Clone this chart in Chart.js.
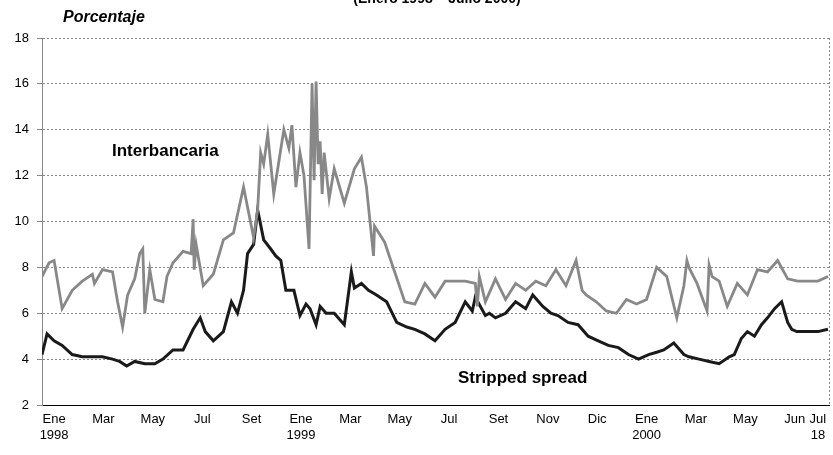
<!DOCTYPE html>
<html><head><meta charset="utf-8">
<script src="https://cdn.jsdelivr.net/npm/chart.js@4/dist/chart.umd.min.js"></script>
<style>html,body{margin:0;padding:0;background:#fff}#w{width:833px;height:455px}</style>
</head><body><div id="w"><canvas id="c"></canvas></div>
<script>
// time index (approx. trading-day index from Jan 1998)
const tickPos = [12,61,110,159,208,257,306,355,404,453,502,551,600,649,698,747,770];
const tickLabels = [["Ene","1998"],"Mar","May","Jul","Set",["Ene","1999"],"Mar","May","Jul","Set","Nov","Dic",["Ene","2000"],"Mar","May","Jun",["Jul","18"]];

const interT = [0,7,12,20,30,40,50,52,60,70,75,80,85,92,97,100,102,107,112,120,124,130,140,148,150,151,153,160,170,180,190,200,210,214,217,220,224,230,240,245,248,252,256,260,265,268,270,272,274,276,278,280,285,290,300,310,317,322,329,330,340,350,360,370,380,390,400,410,420,430,432,434,440,450,460,470,480,490,500,510,520,530,536,540,550,560,570,580,590,600,610,620,630,637,640,642,650,660,662,665,672,680,690,700,710,720,730,740,750,760,770,780];
const interV = [7.6,8.2,8.3,6.2,7.0,7.4,7.7,7.3,7.9,7.8,6.5,5.4,6.8,7.5,8.6,8.8,6.0,7.9,6.6,6.5,7.6,8.2,8.7,8.6,10.1,7.9,9.0,7.2,7.7,9.2,9.5,11.5,9.3,10.5,13.0,12.5,13.8,11.2,14.0,13.2,14.2,11.5,13.0,12.0,8.8,16.0,11.8,16.1,12.5,13.5,11.2,13.0,11.0,12.3,10.8,12.3,12.8,11.5,8.5,9.8,9.1,7.8,6.5,6.4,7.3,6.7,7.4,7.4,7.4,7.3,6.3,7.6,6.5,7.5,6.6,7.3,7.0,7.4,7.2,7.9,7.2,8.3,7.0,6.8,6.5,6.1,6.0,6.6,6.4,6.6,8.0,7.6,5.8,7.2,8.3,8.0,7.3,6.1,8.1,7.6,7.4,6.3,7.3,6.8,7.9,7.8,8.3,7.5,7.4,7.4,7.4,7.6];

const spreadT = [0,5,12,20,30,40,50,60,70,77,84,92,102,112,120,130,140,150,157,162,170,180,188,194,200,204,210,214,220,227,232,237,242,250,256,262,266,272,276,282,290,300,307,310,317,324,332,342,352,362,370,380,390,400,410,420,427,430,440,444,450,460,470,480,487,497,505,512,522,532,542,552,562,572,582,592,602,610,617,627,637,642,652,662,672,682,687,694,700,707,714,720,727,734,740,744,749,755,762,770,780];
const spreadV = [4.2,5.1,4.8,4.6,4.2,4.1,4.1,4.1,4.0,3.9,3.7,3.9,3.8,3.8,4.0,4.4,4.4,5.3,5.8,5.2,4.8,5.2,6.5,6.0,7.0,8.6,9.0,10.5,9.2,8.8,8.5,8.3,7.0,7.0,5.9,6.4,6.2,5.5,6.3,6.0,6.0,5.5,7.8,7.1,7.3,7.0,6.8,6.5,5.6,5.4,5.3,5.1,4.8,5.3,5.6,6.5,6.1,6.7,5.9,6.0,5.8,6.0,6.5,6.2,6.8,6.3,6.0,5.9,5.6,5.5,5.0,4.8,4.6,4.5,4.2,4.0,4.2,4.3,4.4,4.7,4.2,4.1,4.0,3.9,3.8,4.1,4.2,4.9,5.2,5.0,5.5,5.8,6.2,6.5,5.6,5.3,5.2,5.2,5.2,5.2,5.3];

const yTicks = [2,4,6,8,10,12,14,16,18];

const pts = (t,v)=>t.map((x,i)=>({x:x,y:v[i]}));
const textPlugin = {id:'txt',
 beforeDatasetsDraw(ch){
  const c=ch.ctx,a=ch.chartArea; c.save(); c.strokeStyle='#888'; c.lineWidth=1; c.setLineDash([2,2]);
  c.beginPath(); c.moveTo(a.right+0.5,a.top); c.lineTo(a.right+0.5,a.bottom); c.stroke(); c.restore();
 },
 afterDraw(ch){
  const c=ch.ctx; c.save(); c.fillStyle='#000'; c.textBaseline='middle';
  c.font='bold 14px "Liberation Sans", Arial'; c.textAlign='center';
  c.fillText('(Enero 1998 – Julio 2000)',437,-1);
  c.textAlign='left';
  c.font='italic bold 16px "Liberation Sans", Arial'; c.fillText('Porcentaje',63,18);
  c.font='bold 17px "Liberation Sans", Arial';
  c.fillText('Interbancaria',112,151);
  c.fillText('Stripped spread',458,378);
  c.restore();
}};
new Chart(document.getElementById('c'),{
  type:'line',
  data:{datasets:[
    {data:pts(interT,interV),borderColor:'#888888',borderWidth:2.8,pointRadius:0,tension:0},
    {data:pts(spreadT,spreadV),borderColor:'#1a1a1a',borderWidth:3,pointRadius:0,tension:0}
  ]},
  options:{responsive:true,maintainAspectRatio:false,animation:false,
    layout:{padding:{top:38,right:4,left:0,bottom:0}},
    plugins:{legend:{display:false},tooltip:{enabled:false}},
    scales:{
      x:{type:'linear',min:0,max:781,
        afterBuildTicks:s=>{s.ticks=tickPos.map(v=>({value:v}));},
        afterFit:s=>{s.height=50;},
        ticks:{autoSkip:false,maxRotation:0,color:'#000',font:{size:13,family:'"Liberation Sans", Arial'},padding:2,
          callback:(v,i)=>tickLabels[i]},
        grid:{display:false,drawTicks:true,tickLength:5},
        border:{color:'#000',width:1}},
      y:{min:2,max:18,
        afterBuildTicks:s=>{s.ticks=yTicks.map(v=>({value:v}));},
        afterFit:s=>{s.width=42;},
        ticks:{color:'#000',font:{size:13,family:'"Liberation Sans", Arial'},padding:8},
        grid:{color:'#888',lineWidth:1,tickLength:5,drawTicks:true},
        border:{color:'#888',dash:[2,2],width:1}}
    }},
  plugins:[textPlugin]
});
</script></body></html>
